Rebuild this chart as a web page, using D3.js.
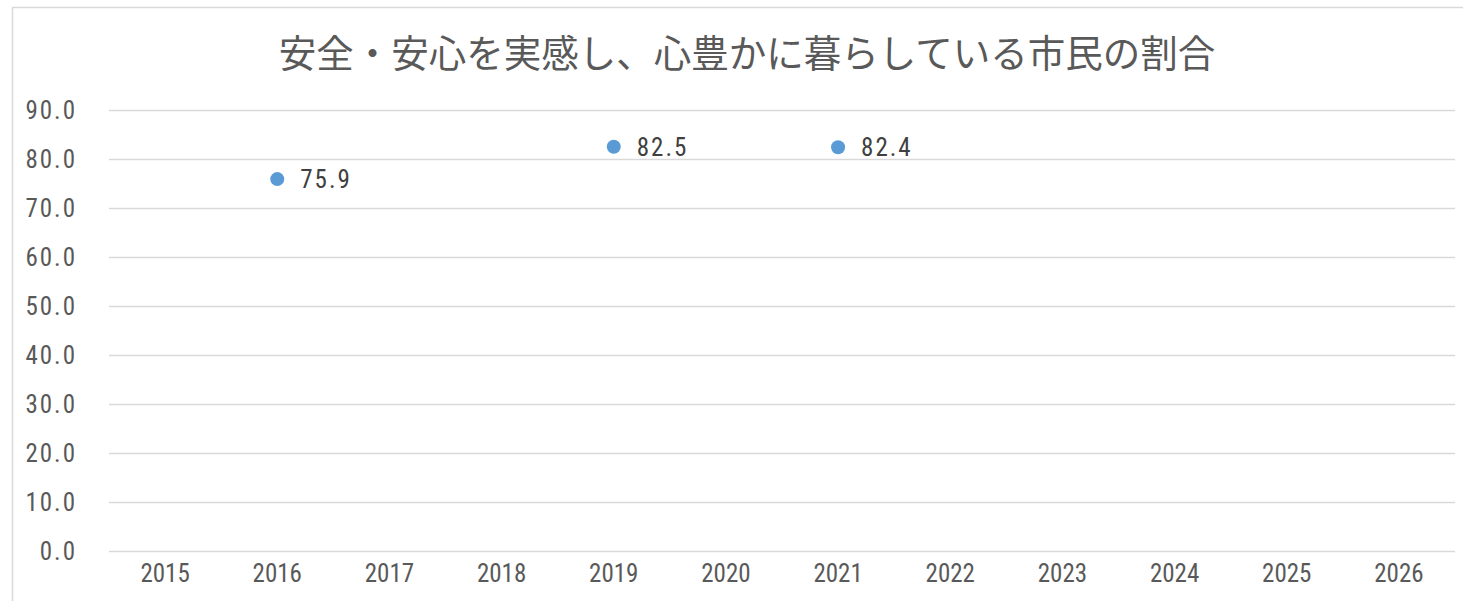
<!DOCTYPE html>
<html>
<head>
<meta charset="utf-8">
<script src="https://cdn.jsdelivr.net/npm/d3@7"></script>
<style>
  body { margin: 0; background: #fff; }
</style>
</head>
<body>
<script>
var w = 1463;
var h = 601;

var years = ["2015", "2016", "2017", "2018", "2019", "2020", "2021", "2022", "2023", "2024", "2025", "2026"];
var rates = [null, 75.9, null, null, 82.5, null, 82.4, null, null, null, null, null];
var yTicks = [0, 10, 20, 30, 40, 50, 60, 70, 80, 90];
var title = "安全・安心を実感し、心豊かに暮らしている市民の割合";

var numFont = "'Liberation Sans Narrow', 'Roboto Condensed', 'Noto Sans CJK JP', sans-serif";

var svg = d3.select("body").append("svg")
  .attr("width", w)
  .attr("height", h);

// chart frame
svg.append("rect")
  .attr("x", 12.5)
  .attr("y", 7.5)
  .attr("width", w)
  .attr("height", h)
  .attr("fill", "#fff")
  .attr("stroke", "#d9d9d9")
  .attr("stroke-width", 1.5);

var x = d3.scaleBand()
  .domain(years)
  .range([109, 1455]);

var y = d3.scaleLinear()
  .domain([0, 90])
  .range([551, 110]);

// title
svg.append("text")
  .attr("x", 747)
  .attr("y", 67)
  .attr("text-anchor", "middle")
  .attr("font-family", "'Noto Sans CJK JP', sans-serif")
  .attr("font-size", "37.5px")
  .attr("fill", "#595959")
  .text(title);

// y axis with gridlines
var yAxis = svg.append("g")
  .attr("transform", "translate(109,0)")
  .call(d3.axisLeft(y).tickValues(yTicks)
    .tickSize(-(1455 - 109))
    .tickPadding(32)
    .tickFormat(d3.format(".1f")));

yAxis.select(".domain").remove();
yAxis.selectAll(".tick line")
  .attr("stroke", "#d9d9d9")
  .attr("stroke-width", 1.5);
yAxis.selectAll(".tick text")
  .attr("font-family", numFont)
  .attr("font-size", "25px")
  .attr("letter-spacing", "2px")
  .attr("fill", "#595959");

// x axis
var xAxis = svg.append("g")
  .attr("transform", "translate(0,551)")
  .call(d3.axisBottom(x).tickSize(0).tickPadding(13));

xAxis.select(".domain").remove();
xAxis.selectAll(".tick text")
  .attr("font-family", numFont)
  .attr("font-size", "25px")
  .attr("fill", "#595959");

var pts = years.map(function(d, i) { return { year: d, rate: rates[i] }; })
  .filter(function(d) { return d.rate != null; });

// markers
svg.selectAll("circle.pt")
  .data(pts)
  .enter()
  .append("circle")
  .attr("class", "pt")
  .attr("cx", function(d) { return x(d.year) + x.bandwidth() / 2; })
  .attr("cy", function(d) { return y(d.rate); })
  .attr("r", 7)
  .attr("fill", "#5b9bd5");

// labels
svg.selectAll("text.lbl")
  .data(pts)
  .enter()
  .append("text")
  .attr("class", "lbl")
  .attr("x", function(d) { return x(d.year) + x.bandwidth() / 2 + 23; })
  .attr("y", function(d) { return y(d.rate) + 9; })
  .attr("font-family", numFont)
  .attr("font-size", "25px")
  .attr("letter-spacing", "2px")
  .attr("fill", "#404040")
  .text(function(d) { return d3.format(".1f")(d.rate); });
</script>
</body>
</html>
